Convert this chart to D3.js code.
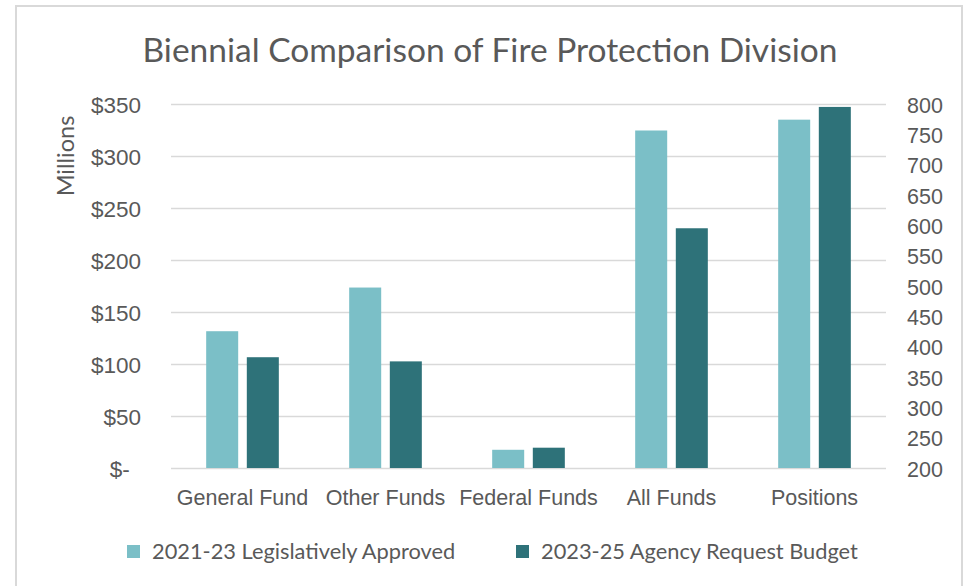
<!DOCTYPE html>
<html>
<head>
<meta charset="utf-8">
<script src="https://cdn.jsdelivr.net/npm/d3@7"></script>
<style>
  html, body { margin: 0; padding: 0; background: #fff; }
  svg { display: block; font-family: Lato, "Open Sans", sans-serif; }
</style>
</head>
<body>
<svg id="chart" width="969" height="586"></svg>
<script>
const categories = ["General Fund", "Other Funds", "Federal Funds", "All Funds", "Positions"];
const seriesNames = ["2021-23 Legislatively Approved", "2023-25 Agency Request Budget"];
// Dollar values in millions (first four categories, left axis)
const approvedDollars = [132, 174, 18, 325];
const requestDollars = [107, 103, 20, 231];
// Positions (right axis)
const approvedPositions = 775;
const requestPositions = 796;
const leftTicks = [0, 50, 100, 150, 200, 250, 300, 350];
const rightTicks = [200, 250, 300, 350, 400, 450, 500, 550, 600, 650, 700, 750, 800];
const colors = ["#7bbfc7", "#2e7279"];

const svg = d3.select("#chart");
const plot = { left: 171, right: 886, top: 104.5, bottom: 468.5 };
const textColor = "#595959";

// chart border
svg.append("rect").attr("x", 16).attr("y", 6).attr("width", 946).attr("height", 600)
  .attr("fill", "#fff").attr("stroke", "#d9d9d9").attr("stroke-width", 2);

const x = d3.scaleBand().domain(categories).range([plot.left, plot.right]).paddingInner(0).paddingOuter(0);
const yL = d3.scaleLinear().domain([0, 350]).range([plot.bottom, plot.top]);
const yR = d3.scaleLinear().domain([200, 800]).range([plot.bottom, plot.top]);
const groupWidth = x.bandwidth() * 0.508;
const x1 = d3.scaleBand().domain([0, 1]).range([0, groupWidth]).paddingInner(0.212).paddingOuter(0);
const groupOffset = (x.bandwidth() - groupWidth) / 2;

// gridlines
svg.append("g").selectAll("line").data(leftTicks).join("line")
  .attr("x1", plot.left).attr("x2", plot.right)
  .attr("y1", d => yL(d)).attr("y2", d => yL(d))
  .attr("stroke", "#d9d9d9").attr("stroke-width", 1.5);

// bar data
const bars = [];
categories.forEach((c, i) => {
  if (c === "Positions") {
    bars.push({ cat: c, s: 0, y: yR(approvedPositions), y0: yR(200) });
    bars.push({ cat: c, s: 1, y: yR(requestPositions), y0: yR(200) });
  } else {
    bars.push({ cat: c, s: 0, y: yL(approvedDollars[i]), y0: yL(0) });
    bars.push({ cat: c, s: 1, y: yL(requestDollars[i]), y0: yL(0) });
  }
});
svg.append("g").selectAll("rect").data(bars).join("rect")
  .attr("x", d => x(d.cat) + groupOffset + x1(d.s))
  .attr("width", x1.bandwidth())
  .attr("y", d => d.y)
  .attr("height", d => d.y0 - d.y - 0.5)
  .attr("fill", d => colors[d.s]);

// left axis
const leftAxis = d3.axisLeft(yL).tickValues(leftTicks).tickSize(0).tickPadding(0)
  .tickFormat(d => d === 0 ? "$-\u2002" : "$" + d);
const gl = svg.append("g").attr("transform", `translate(141,0)`).call(leftAxis);
gl.select(".domain").remove();
gl.selectAll("text").attr("fill", textColor).attr("font-size", 22.5).attr("dy", "0.35em");

// right axis
const rightAxis = d3.axisRight(yR).tickValues(rightTicks).tickSize(0).tickPadding(0);
const gr = svg.append("g").attr("transform", `translate(907,0)`).call(rightAxis);
gr.select(".domain").remove();
gr.selectAll("text").attr("fill", textColor).attr("font-size", 21.5).attr("dy", "0.35em");

// x axis
const bottomAxis = d3.axisBottom(x).tickSize(0).tickPadding(0);
const gb = svg.append("g").attr("transform", `translate(0,${plot.bottom})`).call(bottomAxis);
gb.select(".domain").remove();
gb.selectAll("text").attr("fill", textColor).attr("font-size", 21.5).attr("dy", "1.72em");

// title
svg.append("text").attr("x", 490).attr("y", 62).attr("text-anchor", "middle")
  .attr("fill", textColor).attr("font-size", 33.5).attr("font-weight", 400)
  .text("Biennial Comparison of Fire Protection Division");

// y axis title
svg.append("text").attr("transform", "translate(74,156) rotate(-90)")
  .attr("text-anchor", "middle").attr("fill", textColor).attr("font-size", 23.5)
  .text("Millions");

// legend
const legendX = [127, 516];
const lg = svg.append("g").selectAll("g").data(seriesNames).join("g")
  .attr("transform", (d, i) => `translate(${legendX[i]},545)`);
lg.append("rect").attr("width", 13).attr("height", 13).attr("fill", (d, i) => colors[i]);
lg.append("text").attr("x", 25).attr("y", 6.5).attr("dy", "0.35em")
  .attr("fill", textColor).attr("font-size", 21.8).text(d => d);
</script>
</body>
</html>
